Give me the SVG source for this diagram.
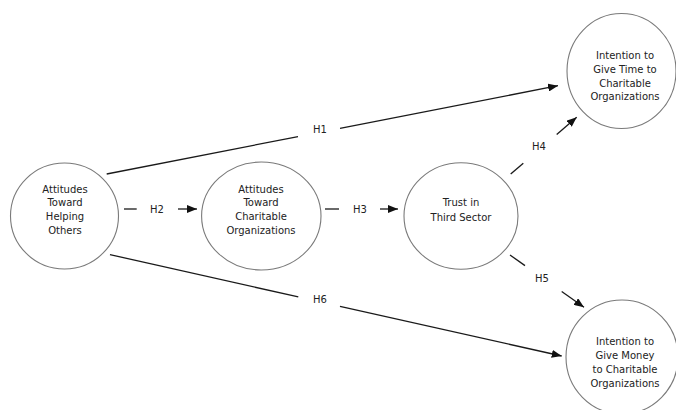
<svg xmlns="http://www.w3.org/2000/svg" width="676" height="410" viewBox="0 0 676 410">
<style>
.node{fill:#fff;stroke:#7a7a7a;stroke-width:1.1}
.t{font-family:"DejaVu Sans",Verdana,sans-serif;font-size:10px;fill:#222;text-anchor:middle}
.c{stroke:#1a1a1a;stroke-width:1.3;fill:none}
</style>
<defs>
<marker id="ah" viewBox="0 0 10 8" refX="10" refY="4" markerWidth="10" markerHeight="8" markerUnits="userSpaceOnUse" orient="auto">
<path d="M0,0 L10,4 L0,8 Z" fill="#111"/>
</marker>
</defs>
<rect width="676" height="410" fill="#fff"/>
<g id="connectors">
<g id="h1"><line class="c" x1="106.7" y1="174" x2="298" y2="136.6"/><line class="c" x1="340" y1="128.3" x2="558" y2="85.7" marker-end="url(#ah)"/><text class="t" x="320" y="133">H1</text></g>
<g id="h2"><line class="c" x1="124" y1="209" x2="136.7" y2="209"/><line class="c" x1="178" y1="209" x2="197" y2="209" marker-end="url(#ah)"/><text class="t" x="157" y="212.6">H2</text></g>
<g id="h3"><line class="c" x1="325" y1="209" x2="339" y2="209"/><line class="c" x1="380" y1="209" x2="398" y2="209" marker-end="url(#ah)"/><text class="t" x="360" y="212.6">H3</text></g>
<g id="h4"><line class="c" x1="510.7" y1="174" x2="523.3" y2="163.2"/><line class="c" x1="556.7" y1="134.5" x2="576.7" y2="117.3" marker-end="url(#ah)"/><text class="t" x="539" y="150.3">H4</text></g>
<g id="h5"><line class="c" x1="510" y1="255" x2="525" y2="265.6"/><line class="c" x1="561.7" y1="291.5" x2="584" y2="307.3" marker-end="url(#ah)"/><text class="t" x="542" y="282">H5</text></g>
<g id="h6"><line class="c" x1="110" y1="254.7" x2="298.3" y2="296.9"/><line class="c" x1="340" y1="306.3" x2="561.7" y2="356" marker-end="url(#ah)"/><text class="t" x="320" y="302.6">H6</text></g>
</g>
<g id="n1">
<ellipse class="node" cx="64.5" cy="216" rx="54" ry="53"/>
<text class="t" x="65" y="192.6">Attitudes</text>
<text class="t" x="65" y="206.3">Toward</text>
<text class="t" x="65" y="220">Helping</text>
<text class="t" x="65" y="233.7">Others</text>
</g>
<g id="n2">
<ellipse class="node" cx="261.3" cy="216" rx="59.7" ry="54"/>
<text class="t" x="261" y="192.6">Attitudes</text>
<text class="t" x="261" y="206.3">Toward</text>
<text class="t" x="261" y="220">Charitable</text>
<text class="t" x="261" y="233.7">Organizations</text>
</g>
<g id="n3">
<ellipse class="node" cx="461" cy="216" rx="57" ry="53.3"/>
<text class="t" x="461" y="206.3">Trust in</text>
<text class="t" x="461" y="220.5">Third Sector</text>
</g>
<g id="n4">
<ellipse class="node" cx="621.5" cy="71" rx="54.5" ry="57.5"/>
<text class="t" x="625" y="59">Intention to</text>
<text class="t" x="625" y="73">Give Time to</text>
<text class="t" x="625" y="86.5">Charitable</text>
<text class="t" x="625" y="100.3">Organizations</text>
</g>
<g id="n5">
<ellipse class="node" cx="622" cy="357" rx="56" ry="57"/>
<text class="t" x="625" y="345.3">Intention to</text>
<text class="t" x="625" y="359.4">Give Money</text>
<text class="t" x="625" y="373">to Charitable</text>
<text class="t" x="625" y="386.9">Organizations</text>
</g>
</svg>
